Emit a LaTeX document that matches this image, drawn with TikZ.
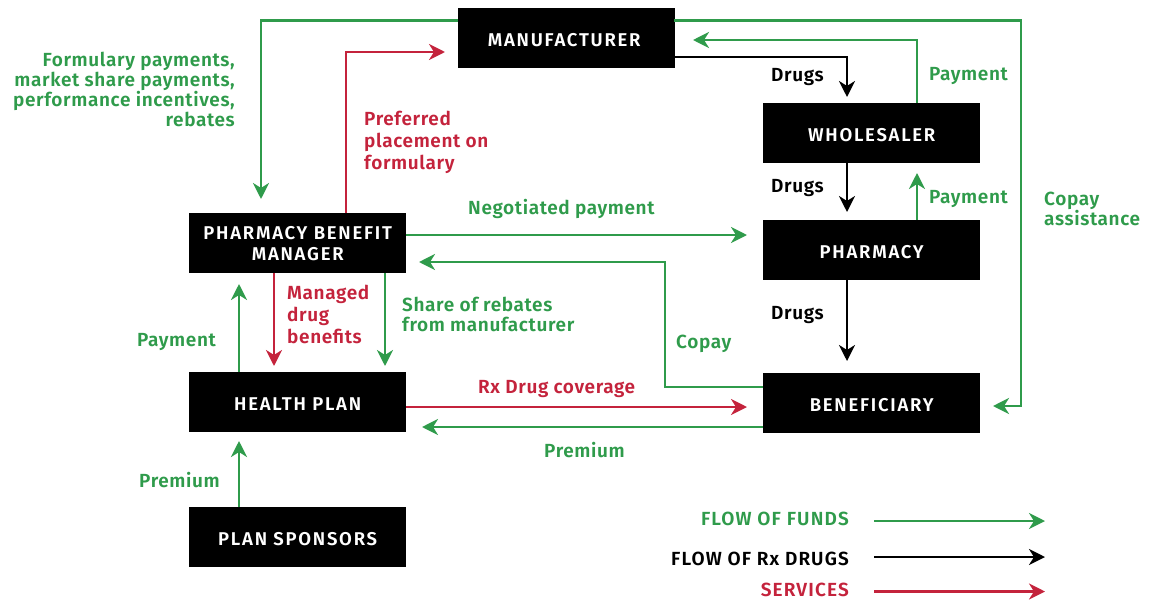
\documentclass[tikz,border=0pt]{standalone}
\usepackage{fontspec}
\setmainfont{Fira Sans}[BoldFont={Fira Sans SemiBold},BoldFeatures={LetterSpace=3.3}]
\newfontfamily\boxfont{Fira Sans SemiBold}[LetterSpace=9.5]
\newfontfamily\keyfont{Fira Sans SemiBold}[LetterSpace=6]
\usetikzlibrary{arrows.meta}
\definecolor{fgreen}{HTML}{2F9B4B}
\definecolor{fred}{HTML}{C4233C}
\tikzset{x=1pt,y=-1pt,
box/.style={fill=black,text=white,font=\boxfont\fontsize{18.5}{21}\selectfont,align=center,minimum width=217,minimum height=60,inner sep=0pt,anchor=north west},
oneline/.style={text height=17pt,text depth=0.2pt},
conn/.style={line width=2.8pt,-{Stealth[length=16pt,width=16pt,inset=5pt]}},
gc/.style={conn,draw=fgreen},bc/.style={conn,draw=black},rc/.style={conn,draw=fred},
lab/.style={font=\bfseries\fontsize{19}{22}\selectfont,inner sep=0pt},
tight/.style={font=\bfseries\fontsize{19}{20}\selectfont},
gl/.style={lab,text=fgreen},bl/.style={lab,text=black},rl/.style={lab,text=fred},
kl/.style={inner sep=0pt,font=\keyfont\fontsize{19}{21}\selectfont}}
\begin{document}
\begin{tikzpicture}
\useasboundingbox (0,0) rectangle (1157,600);
\node[box,oneline] (mfr) at (458,8) {\hspace*{-5pt}MANUFACTURER};
\node[box,oneline] (wh) at (763,103) {WHOLESALER};
\node[box,oneline] (ph) at (763,220) {PHARMACY};
\node[box] (pbm) at (189,213) {PHARMACY BENEFIT\\MANAGER};
\node[box,oneline] (hp) at (189,372) {HEALTH PLAN};
\node[box,oneline] (ben) at (763,373) {BENEFICIARY};
\node[box,oneline] (ps) at (189,507) {PLAN SPONSORS};
\coordinate (c1) at (261,20.5);
\coordinate (c2) at (346,52);
\coordinate (c3) at (1021,20.5);
\coordinate (c4) at (917,40);
\coordinate (c5) at (847,57);
\coordinate (c6) at (665,262);
\draw[gc] (mfr.west |- c1) -- (c1) -- (261,199);
\draw[rc] (346,213) -- (c2) -- (445,52);
\draw[gc] (674,20.5) -- (c3) -- (1021,406) -- (993,406);
\draw[gc] (917,103) -- (c4) -- (693,40);
\draw[bc] (674,57) -- (c5) -- (847,97);
\draw[bc] (847,163) -- (847,212);
\draw[gc] (917,220) -- (917,173);
\draw[bc] (847,280) -- (847,361);
\draw[gc] (406,235) -- (747,235);
\draw[gc] (763,387) -- (665,387) -- (c6) -- (419,262);
\draw[rc] (274,273) -- (274,366);
\draw[gc] (385,273) -- (385,366);
\draw[gc] (239,372) -- (239,284);
\draw[rc] (406,407) -- (747,407);
\draw[gc] (763,427) -- (422,427);
\draw[gc] (239,507) -- (239,441);
\node[gl,tight,align=right,anchor=north east] at (235,51.5) {Formulary payments,\\market share payments,\\performance incentives,\\rebates};
\node[rl,align=left,anchor=north west] at (364,110.5) {Preferred\\placement on\\formulary};
\node[bl,anchor=west] at (771,77) {Drugs};
\node[gl,anchor=west] at (929,76) {Payment};
\node[bl,anchor=west] at (771,188) {Drugs};
\node[gl,anchor=west] at (929,199) {Payment};
\node[gl,tight,align=left,anchor=north west] at (1044,192) {Copay\\assistance};
\node[gl,anchor=west] at (468,209) {Negotiated payment};
\node[bl,anchor=west] at (771,315) {Drugs};
\node[rl,align=left,anchor=north west] at (287,285) {Managed\\drug\\benefits};
\node[gl,tight,align=left,anchor=north west] at (402,297) {Share of rebates\\from manufacturer};
\node[gl,anchor=west] at (676,344) {Copay};
\node[gl,anchor=west] at (137,342) {Payment};
\node[rl,anchor=west] at (478,389) {Rx Drug coverage};
\node[gl,anchor=west] at (544,450) {Premium};
\node[gl,anchor=west] at (139,480) {Premium};
\node[kl,text=fgreen,anchor=east] (k1) at (849,519) {FLOW OF FUNDS};
\node[kl,text=black,anchor=east] (k2) at (849,559) {FLOW OF Rx DRUGS};
\node[kl,text=fred,anchor=east] (k3) at (849,590) {SERVICES};
\coordinate (e1) at (1045,521);
\coordinate (e2) at (1045,557);
\coordinate (e3) at (1045,591.5);
\draw[gc] (874,521) -- (e1);
\draw[bc] (874,557) -- (e2);
\draw[rc] (874,591.5) -- (e3);
\end{tikzpicture}
\end{document}
